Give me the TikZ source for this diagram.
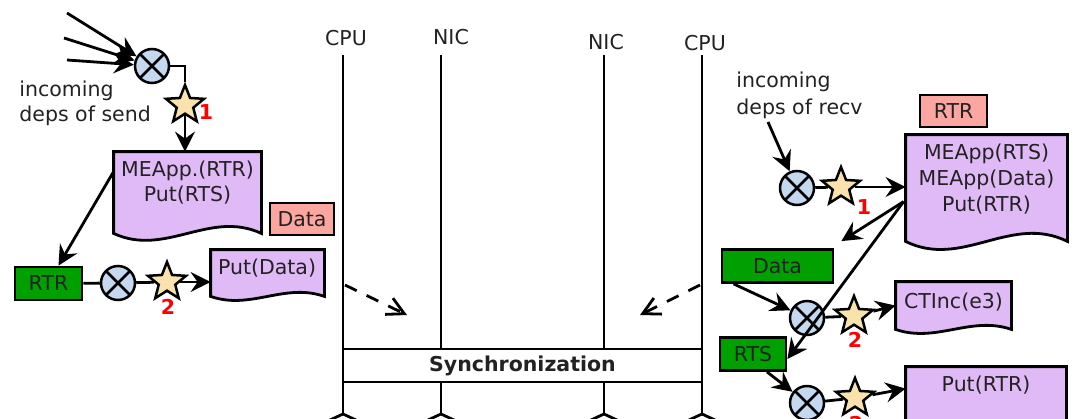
\documentclass[tikz,border=0pt]{standalone}
\usepackage{fontspec}
\setmainfont{DejaVu Sans}
\usetikzlibrary{arrows.meta,shapes.geometric,calc}
\definecolor{docpurple}{RGB}{224,186,246}
\definecolor{boxpink}{RGB}{251,166,160}
\definecolor{boxgreen}{RGB}{0,160,0}
\definecolor{xblue}{RGB}{196,216,240}
\definecolor{starfill}{RGB}{250,226,172}
\definecolor{txt}{RGB}{34,34,34}
\newcommand\docdraw[2]{%
  \draw[docshape] (#1.south west) -- (#1.north west) -- (#1.north east) -- (#1.south east)
    .. controls ($(#1.south east)!0.35!(#1.south west)+(0,-#2)$) and ($(#1.south east)!0.65!(#1.south west)+(0,#2)$) .. (#1.south west) -- cycle;}
\begin{document}
\begin{tikzpicture}[x=1pt,y=-1pt,line width=2.8pt,
  every node/.style={font=\fontsize{20.5}{25}\selectfont, inner sep=0pt, text=txt},
  arr/.style={-{Stealth[length=20pt,width=20pt,inset=7pt]}},
  xcirc/.style={circle, draw, fill=xblue, minimum size=34pt, line width=2.5pt,
    path picture={\draw[line width=2.5pt] (path picture bounding box.north west)--(path picture bounding box.south east) (path picture bounding box.north east)--(path picture bounding box.south west);}},
  starn/.style={star, star points=5, star point ratio=2.3, draw, fill=starfill, minimum size=40pt, line width=2.5pt},
  redlab/.style={text=red, font=\fontsize{20.5}{25}\selectfont\bfseries},
  greenbox/.style={draw, fill=boxgreen, minimum height=33pt},
  pinkbox/.style={draw, fill=boxpink, minimum height=32pt},
  docbox/.style={rectangle, inner sep=0pt},
  docshape/.style={draw, fill=docpurple, line join=miter},
  dasharr/.style={dash pattern=on 13pt off 11pt, -{Straight Barb[length=17pt,width=18pt]}},
]
\useasboundingbox (0,0) rectangle (1076,418);
\clip (0,0) rectangle (1076,418);

% ---------- left side ----------
\node[anchor=west, align=left] (inl) at (18,103) {incoming\\deps of send};
\coordinate (in1) at (67,13);
\coordinate (in2) at (64,38);
\coordinate (in3) at (67,60);
\node[xcirc] (c1) at (152,66) {};
\draw[arr] (in1) -- (c1);
\draw[arr] (in2) -- (c1);
\draw[arr] (in3) -- (c1);
\node[starn] (s1) at (185,105) {};
\draw (c1.east) -| (s1.north);
\node[redlab] (n1) at (206,112) {1};

\node[docbox, minimum width=145pt, minimum height=79pt] (d1) at (187.5,192.5) {};
\docdraw{d1}{24}
\node[align=center] (d1t) at (187.5,183) {MEApp.(RTR)\\Put(RTS)};
\draw[arr] (s1) -- (s1 |- d1.north);

\node[pinkbox, minimum width=64pt] (datal) at (302,219) {Data};

\node[greenbox, minimum width=67pt] (rtrl) at (48.5,283.5) {RTR};
\draw[arr] ($(d1.north west)+(0,20)$) -- ([xshift=10pt]rtrl.north);
\node[xcirc] (c2) at (118,283) {};
\node[starn] (s2) at (167,282) {};
\node[redlab] (n2) at (168,307) {2};
\node[docbox, minimum width=111pt, minimum height=44pt] (d2) at (267.5,273) {};
\docdraw{d2}{14}
\node (d2t) at (267,268) {Put(Data)};
\draw (rtrl) -- (c2);
\draw (c2) -- (s2);
\draw[arr] (s2) -- (s2 -| d2.west);

% ---------- middle ----------
\node (cpu1) at (346,38) {CPU};
\node (nic1) at (451,37) {NIC};
\node (nic2) at (606,42) {NIC};
\node (cpu2) at (705,43) {CPU};
\node[draw, minimum width=359pt, minimum height=33pt, font=\fontsize{20.5}{25}\selectfont\bfseries] (sync) at (522.5,365.5) {Synchronization};
\foreach \x [count=\i] in {343,441,604,702}{
  \coordinate (t\i) at (\x,55);
  \coordinate (b\i) at (\x,414);
  \draw (t\i) -- (t\i |- sync.north);
  \draw (t\i |- sync.south) -- (b\i);
  \draw ($(b\i)+(-13,6)$) -- (b\i) -- ($(b\i)+(13,6)$);
}
\coordinate (da1) at (345,285);
\coordinate (da2) at (407,315);
\draw[dasharr] (da1) -- (da2);
\coordinate (db1) at (700,285);
\coordinate (db2) at (640,315);
\draw[dasharr] (db1) -- (db2);

% ---------- right side ----------
\node[anchor=west, align=left, font=\fontsize{20.5}{27}\selectfont] (inr) at (735,95) {incoming\\deps of recv};
\coordinate (inr0) at (768,122);
\node[xcirc] (c3) at (797,188) {};
\draw[arr] (inr0) -- (c3);
\node[starn] (s3) at (841,187) {};
\node[redlab] (n3) at (864,207) {1};
\node[pinkbox, minimum width=67pt] (rtrr) at (953.5,111) {RTR};
\node[docbox, minimum width=159pt, minimum height=104pt] (d3) at (986.5,188) {};
\docdraw{d3}{28}
\node[align=center, font=\fontsize{20.5}{26}\selectfont] (d3t) at (986.5,179) {MEApp(RTS)\\MEApp(Data)\\Put(RTR)};
\draw (c3) -- (s3);
\draw[arr] (s3) -- (s3 -| d3.west);

\node[greenbox, minimum width=111pt] (datar) at (777.5,266) {Data};
\node[greenbox, minimum width=66pt] (rts) at (753,354) {RTS};
\coordinate (d3o) at ($(d3.north west)+(-2,67)$);
\draw[arr] (d3o) -- ($(datar.north east)+(7,-7)$);

\node[xcirc] (c4) at (807,318) {};
\draw[arr] ($(datar.south west)+(13,0)$) -- (c4);
\node[starn] (s4) at (854,316) {};
\node[redlab] (n4) at (855,340) {2};
\node[docbox, minimum width=113pt, minimum height=45pt] (d4) at (953.5,305.5) {};
\docdraw{d4}{14}
\node (d4t) at (953.5,302) {CTInc(e3)};
\draw (c4) -- (s4);
\draw[arr] (s4) -- ($(d4.north west)+(0,24)$);
\draw[arr] (d3o) -- ($(rts.east)+(0,5)$);

\node[xcirc] (c5) at (807,403) {};
\draw[arr] ($(rts.south)+(14,0)$) -- (c5);
\node[starn] (s5) at (855,398) {};
\node[redlab] (n5) at (856,424) {2};
\node[docbox, minimum width=158pt, minimum height=57pt] (d5) at (986,396.5) {};
\docdraw{d5}{17}
\node (d5t) at (986,385) {Put(RTR)};
\draw (c5) -- (s5);
\draw[arr] (s5) -- ($(d5.north west)+(0,22)$);
\end{tikzpicture}
\end{document}
